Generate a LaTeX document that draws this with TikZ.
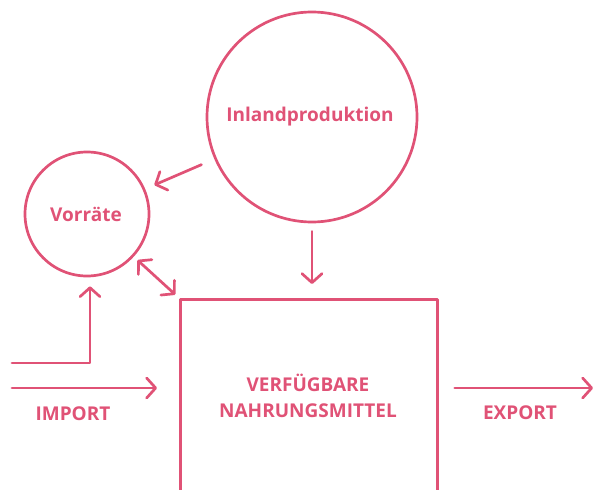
\documentclass[tikz,border=0pt]{standalone}
\usepackage{fontspec}
\setmainfont{Open Sans}
\usetikzlibrary{arrows.meta}
\definecolor{pk}{RGB}{224,82,118}
\tikzset{
  ln/.style={draw=pk, line width=2.7pt, line cap=round, line join=round},
  arr/.style={ln, -{Straight Barb[length=9pt,width=20pt,round]}},
  darr/.style={ln, {Straight Barb[length=9pt,width=20pt,round]}-{Straight Barb[length=9pt,width=20pt,round]}},
  lbl/.style={text=pk, font=\bfseries\fontsize{19}{26}\selectfont, align=center, inner sep=0pt},
  ring/.style={ln, circle, inner sep=0pt},
}
\begin{document}
\begin{tikzpicture}[x=1pt,y=-1pt]
\useasboundingbox (0,0) rectangle (593,489);
\node[ring, minimum size=210pt] (inland) at (312,117) {};
\node[lbl] (inlandt) at (310,117) {Inlandproduktion};
\node[ring, minimum size=124pt] (vor) at (87,214) {};
\node[lbl] (vort) at (86,214) {Vorräte};
\node[ln, rectangle, minimum width=257pt, minimum height=240pt, anchor=north west, inner sep=0pt] (box) at (179,298) {};
\node[lbl] (boxt) at (308,396) {VERFÜGBARE\\NAHRUNGSMITTEL};
\coordinate (imp1) at (12,363);
\coordinate (corner) at (90,363);
\coordinate (imp2) at (12,388);
\coordinate (expend) at (593,388);
\draw[arr, shorten <=8pt, shorten >=14pt] (inland.south) -- (inland.south |- box.north);
\draw[arr, shorten <=14pt, shorten >=10pt] (inland) -- (vor);
\draw[darr, shorten <=5pt, shorten >=5pt] (vor) -- (box.north west);
\draw[arr, shorten >=9pt] (imp1) -- (corner) -- (corner |- vor.south);
\draw[arr, shorten >=22pt] (imp2) -- (imp2 -| box.west);
\draw[arr, shorten <=16pt] (imp2 -| box.east) -- (expend);
\node[lbl] (impt) at (73,414) {IMPORT};
\node[lbl] (expt) at (520,413) {EXPORT};
\end{tikzpicture}
\end{document}
